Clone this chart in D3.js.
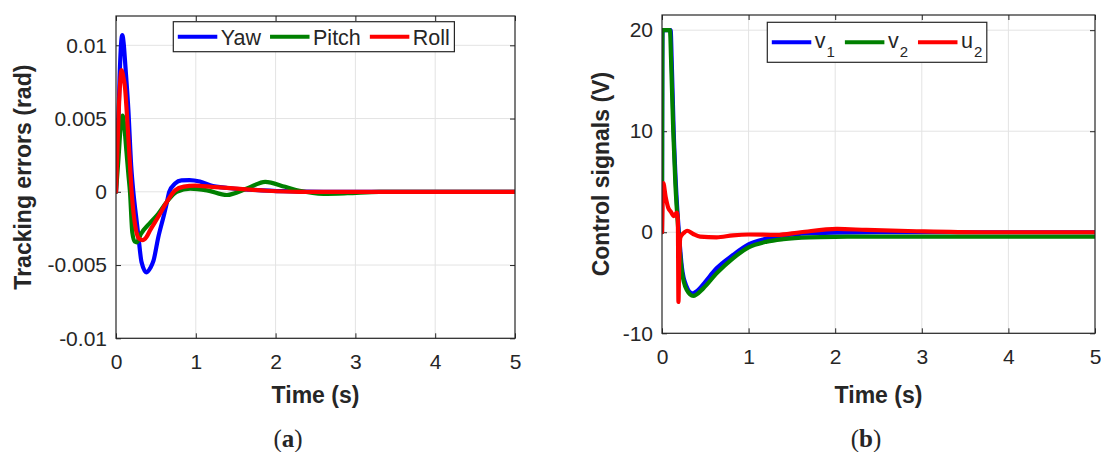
<!DOCTYPE html>
<html>
<head>
  <meta charset="utf-8" />
  <title>Tracking errors and control signals</title>
  <script src="https://d3js.org/d3.v7.min.js"></script>
  <style>
    body { margin: 0; background: #fff; }
    svg text { font-family: "Liberation Sans", Arial, sans-serif; fill: #262626; }
  </style>
</head>
<body>
<svg id="chart" width="1101" height="452"></svg>
<script>
  // shared time ticks (s)
  const timeTicks = [0, 1, 2, 3, 4, 5];

  // panel (a): tracking errors, [time s, error rad]
  const errTicks = [-0.01, -0.005, 0, 0.005, 0.01];
  const yawErr = [[0,0],[0.02,0.0028],[0.045,0.0078],[0.065,0.0102],[0.079,0.0107],[0.095,0.0102],
    [0.12,0.0084],[0.155,0.0056],[0.19,0.0018],[0.217,0],[0.25,-0.0016],[0.28,-0.003],[0.32,-0.0048],
    [0.384,-0.0055],[0.43,-0.0052],[0.47,-0.0047],[0.53,-0.0031],[0.6,-0.0016],[0.635,-0.0008],
    [0.668,0],[0.74,0.00056],[0.82,0.00078],[0.92,0.0008],[1.05,0.0007],[1.18,0.00045],[1.4,0.00026],
    [1.68,0.00015],[2.1,0.00004],[2.6,0],[5,0]];
  const pitchErr = [[0,0],[0.03,0.0022],[0.06,0.0045],[0.083,0.0052],[0.1,0.0047],[0.13,0.0028],
    [0.155,0.0012],[0.175,0],[0.205,-0.0028],[0.235,-0.0034],[0.26,-0.00345],[0.31,-0.0029],
    [0.43,-0.0021],[0.53,-0.0015],[0.635,-0.0007],[0.76,0],[0.93,0.00022],[1.14,0.0001],
    [1.39,-0.00022],[1.64,0.00022],[1.87,0.00068],[2.12,0.00034],[2.3,0.00007],[2.6,-0.00014],
    [2.9,-0.0001],[3.3,0],[5,0]];
  const rollErr = [[0,0],[0.02,0.0033],[0.045,0.0068],[0.071,0.0083],[0.09,0.0079],[0.115,0.007],
    [0.133,0.0056],[0.165,0.0028],[0.196,0],[0.25,-0.0026],[0.29,-0.0032],[0.334,-0.0033],
    [0.38,-0.0031],[0.43,-0.0026],[0.53,-0.0017],[0.635,-0.0007],[0.74,0.0001],[0.85,0.00035],
    [0.99,0.00042],[1.2,0.00034],[1.47,0.00023],[1.89,0.00007],[2.3,0],[5,0]];

  // panel (b): control signals, [time s, volts]
  const ctrlTicks = [-10, 0, 10, 20];
  const v1Signal = [[0,0],[0.006,20],[0.1,20],[0.112,17],[0.135,10],[0.16,4.8],[0.195,0],[0.23,-3.5],
    [0.28,-5.3],[0.35,-6.05],[0.42,-5.7],[0.5,-4.9],[0.63,-3.57],[0.82,-2.25],[1.0,-1.2],[1.2,-0.65],
    [1.36,-0.36],[1.6,-0.15],[2.0,-0.03],[2.5,0],[5,0]];
  const v2Signal = [[0,0],[0.005,20],[0.092,20],[0.105,17],[0.13,10],[0.154,4.86],[0.19,0],
    [0.227,-3.7],[0.285,-5.7],[0.36,-6.3],[0.477,-5.55],[0.63,-4.07],[0.82,-2.58],[1.0,-1.5],
    [1.21,-0.93],[1.4,-0.68],[1.7,-0.5],[2.0,-0.45],[2.5,-0.43],[5,-0.43]];
  const u2Signal = [[0,0],[0.015,4.86],[0.042,3.5],[0.073,2.4],[0.1,2.05],[0.138,1.6],[0.17,1.95],
    [0.183,1.2],[0.19,-6.9],[0.198,-3.5],[0.21,-0.6],[0.227,-0.3],[0.26,0],[0.29,0.15],[0.36,-0.17],
    [0.44,-0.43],[0.63,-0.5],[0.82,-0.3],[1.0,-0.22],[1.32,-0.26],[1.6,0],[2.02,0.33],[2.36,0.23],
    [2.94,0.1],[3.7,0],[5,0]];

  const BLUE = "#0000ff", GREEN = "#008000", RED = "#ff0000", INK = "#262626";

  const svg = d3.select("#chart");

  function drawPanel(p) {
    const x = d3.scaleLinear().domain([0, 5]).range([p.left, p.right]);
    const y = d3.scaleLinear().domain(p.yDomain).range([p.bottom, p.top]);
    const g = svg.append("g");

    // grid
    g.selectAll(".vgrid").data(timeTicks.slice(1, -1)).enter().append("line")
      .attr("x1", d => x(d)).attr("x2", d => x(d))
      .attr("y1", p.top).attr("y2", p.bottom)
      .attr("stroke", "#e3e3e3").attr("stroke-width", 1);
    g.selectAll(".hgrid").data(p.yTicks).enter().append("line")
      .attr("x1", p.left).attr("x2", p.right)
      .attr("y1", d => y(d)).attr("y2", d => y(d))
      .attr("stroke", "#e3e3e3").attr("stroke-width", 1);

    // axes with inward ticks
    const fmt = d => d === 0 ? "0" : String(d);
    const bottom = g.append("g").attr("transform", `translate(0,${p.bottom})`)
      .call(d3.axisBottom(x).tickValues(timeTicks).tickFormat(fmt).tickSizeInner(-5).tickSizeOuter(0).tickPadding(16));
    const left = g.append("g").attr("transform", `translate(${p.left},0)`)
      .call(d3.axisLeft(y).tickValues(p.yTicks).tickFormat(fmt).tickSizeInner(-5).tickSizeOuter(0).tickPadding(9));
    const top = g.append("g").attr("transform", `translate(0,${p.top})`)
      .call(d3.axisTop(x).tickValues(timeTicks).tickFormat("").tickSizeInner(-5).tickSizeOuter(0));
    const right = g.append("g").attr("transform", `translate(${p.right},0)`)
      .call(d3.axisRight(y).tickValues(p.yTicks).tickFormat("").tickSizeInner(-5).tickSizeOuter(0));
    [bottom, left, top, right].forEach(a => {
      a.select(".domain").remove();
      a.selectAll("line").attr("stroke", INK);
      a.selectAll("text").attr("font-size", 21).attr("fill", INK)
        .attr("font-family", '"Liberation Sans", Arial, sans-serif');
    });

    // data lines
    const clipId = "clip-" + p.name;
    svg.append("clipPath").attr("id", clipId).append("rect")
      .attr("x", p.left).attr("y", p.top)
      .attr("width", p.right - p.left).attr("height", p.bottom - p.top);
    const line = d3.line().x(d => x(d[0])).y(d => y(d[1])).curve(d3.curveMonotoneX);
    const lines = g.append("g").attr("clip-path", `url(#${clipId})`);
    p.series.forEach(s => {
      lines.append("path").datum(s.data)
        .attr("d", line).attr("fill", "none")
        .attr("stroke", s.color).attr("stroke-width", 4.2)
        .attr("stroke-linejoin", "round").attr("stroke-linecap", "round");
    });

    // box
    g.append("rect").attr("x", p.left).attr("y", p.top)
      .attr("width", p.right - p.left).attr("height", p.bottom - p.top)
      .attr("fill", "none").attr("stroke", INK).attr("stroke-width", 1.2);

    // axis labels
    g.append("text").attr("x", (p.left + p.right) / 2).attr("y", 403)
      .attr("text-anchor", "middle").attr("font-size", 23).attr("font-weight", "bold")
      .text("Time (s)");
    g.append("text")
      .attr("transform", `translate(${p.yLabelX},${(p.top + p.bottom) / 2}) rotate(-90)`)
      .attr("text-anchor", "middle").attr("dy", "0.36em")
      .attr("font-size", 23).attr("font-weight", "bold")
      .text(p.yLabel);

    // legend
    const lg = g.append("g");
    const box = lg.append("rect").attr("fill", "#fff").attr("stroke", INK).attr("stroke-width", 1.2);
    const midY = p.legend.y + p.legend.h / 2;
    let cx = p.legend.x + 4.5;
    p.series.forEach((s, i) => {
      lg.append("line").attr("x1", cx).attr("x2", cx + 39.5)
        .attr("y1", midY).attr("y2", midY)
        .attr("stroke", s.color).attr("stroke-width", 4);
      cx += 43;
      const t = lg.append("text").attr("x", cx).attr("y", midY + p.legend.base)
        .attr("font-size", 21.5);
      t.append("tspan").text(s.label);
      if (s.sub) {
        t.append("tspan").attr("dy", 8.4).attr("font-size", 15).attr("dx", 1).text(s.sub);
      }
      cx += t.node().getComputedTextLength() + (s.sub ? 1 : 0);
      if (i < p.series.length - 1) cx += p.legend.gap;
    });
    box.attr("x", p.legend.x).attr("y", p.legend.y)
      .attr("width", cx + 4.5 - p.legend.x).attr("height", p.legend.h);

    // caption
    const cap = g.append("text").attr("x", p.capX).attr("y", 447)
      .attr("text-anchor", "middle").attr("font-size", 25)
      .style("font-family", '"Liberation Serif", "Times New Roman", serif');
    cap.append("tspan").text("(");
    cap.append("tspan").attr("font-weight", "bold").text(p.caption);
    cap.append("tspan").text(")");
  }

  drawPanel({
    name: "a", left: 116, right: 515, top: 16, bottom: 338.3,
    yDomain: [-0.01, 0.012], yTicks: errTicks,
    yLabel: "Tracking errors (rad)", yLabelX: 23, capX: 288, caption: "a",
    legend: { x: 173.3, y: 21.7, h: 30, gap: 9, base: 7.8 },
    series: [
      { label: "Yaw", color: BLUE, data: yawErr },
      { label: "Pitch", color: GREEN, data: pitchErr },
      { label: "Roll", color: RED, data: rollErr }
    ]
  });

  drawPanel({
    name: "b", left: 662, right: 1095, top: 15, bottom: 333.3,
    yDomain: [-10, 21.5], yTicks: ctrlTicks,
    yLabel: "Control signals (V)", yLabelX: 601, capX: 866, caption: "b",
    legend: { x: 767.3, y: 22.3, h: 40, gap: 10, base: 6 },
    series: [
      { label: "v", sub: "1", color: BLUE, data: v1Signal },
      { label: "v", sub: "2", color: GREEN, data: v2Signal },
      { label: "u", sub: "2", color: RED, data: u2Signal }
    ]
  });
</script>
</body>
</html>
